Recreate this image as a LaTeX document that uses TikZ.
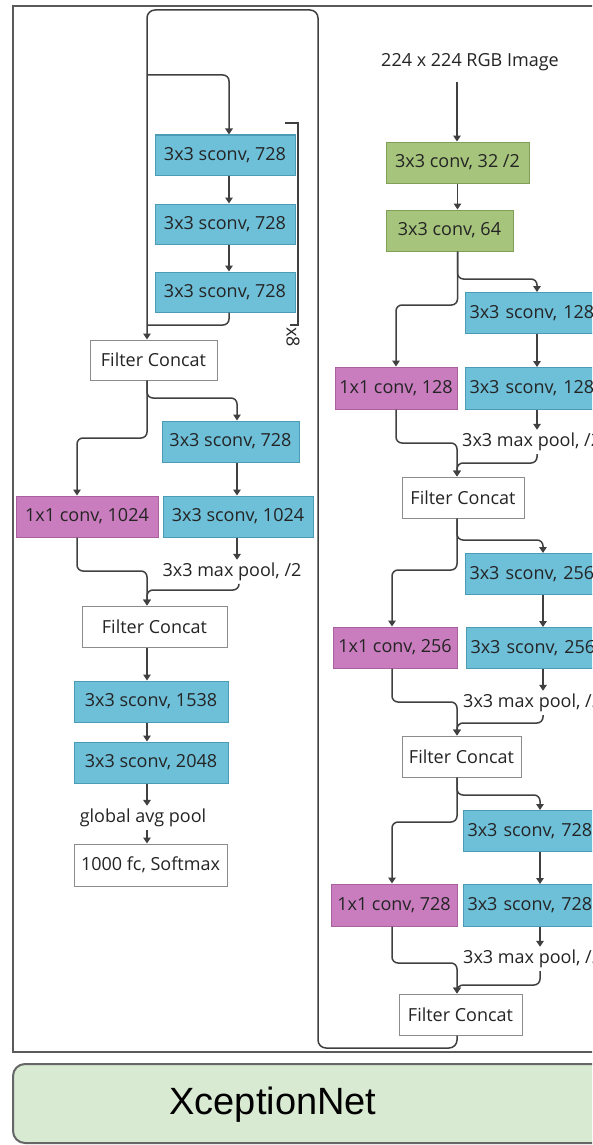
\documentclass[tikz,border=0pt]{standalone}
\usepackage{fontspec}
\setmainfont{Open Sans}
\newfontfamily\captionfont{Liberation Sans}
\usetikzlibrary{arrows.meta}
\definecolor{sblue}{HTML}{6EBFD8}
\definecolor{sblueb}{HTML}{4C9BB6}
\definecolor{spurp}{HTML}{C97DBF}
\definecolor{spurpb}{HTML}{A8609E}
\definecolor{sgreen}{HTML}{A6C47C}
\definecolor{sgreenb}{HTML}{80A058}
\definecolor{txt}{HTML}{242424}
\definecolor{lnk}{HTML}{404040}
\definecolor{frame}{HTML}{5A5A5A}
\definecolor{capfill}{HTML}{D9EAD3}
\definecolor{capedge}{HTML}{666666}
\tikzset{
  box/.style={draw, line width=1pt, minimum height=41pt, inner sep=0pt,
    font=\fontsize{18}{21}\selectfont, text=txt},
  sc/.style={box, fill=sblue, draw=sblueb},
  pc/.style={box, fill=spurp, draw=spurpb},
  gc/.style={box, fill=sgreen, draw=sgreenb},
  wc/.style={box, fill=white, draw=black!45},
  rsc/.style={sc, anchor=north west, text width=150pt, align=left, inner xsep=4pt},
  lbl/.style={font=\fontsize{18}{21}\selectfont, text=txt, inner xsep=0pt, inner ysep=3pt},
  link/.style={draw=lnk, line width=1.5pt, rounded corners=6pt},
  arr/.style={link, -{Triangle[length=6pt,width=7.5pt]}},
}
\begin{document}
\begin{tikzpicture}[x=1pt,y=-1pt]
\useasboundingbox (0,0) rectangle (592,1145);
\clip (0,0) rectangle (592,1145);

% outer frame
\draw[line width=2.5pt, draw=frame] (13,6) rectangle (620,1052);

% ---------- entry flow ----------
\node[lbl] (rgb) at (470,62) {224 x 224 RGB Image};
\coordinate (rgbout) at (457,82);
\node[gc, minimum width=143pt] (G1) at (457.5,162.5) {3x3 conv, 32 /2};
\node[gc, minimum width=127pt] (G2) at (449.5,230.5) {3x3 conv, 64};

% block 1
\node[rsc, minimum height=41pt] (sa1) at (465,292) {3x3 sconv, 128};
\node[pc, minimum width=122pt, minimum height=42pt] (P128) at (396,388) {1x1 conv, 128};
\node[rsc, minimum height=42pt] (sb1) at (465,367) {3x3 sconv, 128};
\node[lbl, anchor=west] (mp1) at (462,442) {3x3 max pool, /2};
\node[wc, minimum width=122pt] (FC1) at (463,497.5) {Filter Concat};

% block 2
\node[rsc] (sa2) at (465,553) {3x3 sconv, 256};
\node[pc, minimum width=124pt] (P256) at (395,647.5) {1x1 conv, 256};
\node[rsc] (sb2) at (466,627) {3x3 sconv, 256};
\node[lbl, anchor=west] (mp2) at (463,703) {3x3 max pool, /2};
\node[wc, minimum width=119pt] (FC2) at (461.5,756.5) {Filter Concat};

% block 3
\node[rsc] (sa3) at (463,810) {3x3 sconv, 728};
\node[pc, minimum width=126pt, minimum height=42pt] (P728) at (394,905) {1x1 conv, 728};
\node[rsc, minimum height=42pt] (sb3) at (463,884) {3x3 sconv, 728};
\node[lbl, anchor=west] (mp3) at (463,959) {3x3 max pool, /2};
\node[wc, minimum width=123pt] (FC3) at (460.5,1014.5) {Filter Concat};

% ---------- middle flow (repeated) ----------
\node[sc, minimum width=140pt, minimum height=40pt] (L1) at (225,155) {3x3 sconv, 728};
\node[sc, minimum width=140pt, minimum height=40pt] (L2) at (225,224) {3x3 sconv, 728};
\node[sc, minimum width=140pt, minimum height=40pt] (L3) at (225,292) {3x3 sconv, 728};
\node[wc, minimum width=127pt, minimum height=40pt] (LFC1) at (153.5,360) {Filter Concat};
\node[lbl, rotate=-90] (rep) at (293,337) {x8};
\coordinate (tap) at (147,75);

% ---------- exit flow ----------
\node[sc, minimum width=137pt] (LS728) at (230.5,441.5) {3x3 sconv, 728};
\node[pc, minimum width=142pt] (LP1024) at (87,516.5) {1x1 conv, 1024};
\node[sc, minimum width=150pt] (LS1024) at (238,516.5) {3x3 sconv, 1024};
\node[lbl] (mpL) at (232,572) {3x3 max pool, /2};
\node[wc, minimum width=145pt] (LFC2) at (154.5,626.5) {Filter Concat};
\node[sc, minimum width=154pt] (LS1538) at (151,701.5) {3x3 sconv, 1538};
\node[sc, minimum width=154pt] (LS2048) at (151,762.5) {3x3 sconv, 2048};
\node[lbl] (gap) at (143,818) {global avg pool};
\node[wc, minimum width=153pt, minimum height=42pt] (LFC3) at (150.5,865) {1000 fc, Softmax};

% ---------- connectors: entry flow ----------
\draw[arr] (rgbout) -- (rgbout |- G1.north);
\draw[arr] (G1.south) -- (G1.south |- G2.north);
\draw[arr] (G2.south -| G1.south) |- (537,279) -- (537,0 |- sa1.north);
\draw[arr] (G2.south -| G1.south) |- (396,305) -- (P128.north);
\draw[arr] (537,0 |- sa1.south) -- (537,0 |- sb1.north);
\draw[arr] (537,0 |- sb1.south) -- (537,0 |- mp1.north);
\draw[arr] (537,0 |- mp1.south) |- (457,463) -- (457,0 |- FC1.north);
\draw[arr] (P128.south) |- (457,443) -- (457,0 |- FC1.north);

\draw[arr] (457,0 |- FC1.south) |- (543,540) -- (543,0 |- sa2.north);
\draw[arr] (457,0 |- FC1.south) |- (392,570) -- (392,0 |- P256.north);
\draw[arr] (543,0 |- sa2.south) -- (543,0 |- sb2.north);
\draw[arr] (543,0 |- sb2.south) -- (543,0 |- mp2.north);
\draw[arr] (543,0 |- mp2.south) |- (457,723) -- (457,0 |- FC2.north);
\draw[arr] (392,0 |- P256.south) |- (457,702) -- (457,0 |- FC2.north);

\draw[arr] (457,0 |- FC2.south) |- (540,795) -- (540,0 |- sa3.north);
\draw[arr] (457,0 |- FC2.south) |- (392,822) -- (392,0 |- P728.north);
\draw[arr] (540,0 |- sa3.south) -- (540,0 |- sb3.north);
\draw[arr] (540,0 |- sb3.south) -- (540,0 |- mp3.north);
\draw[arr] (540,0 |- mp3.south) |- (457,985) -- (457,0 |- FC3.north);
\draw[arr] (392,0 |- P728.south) |- (457,963) -- (457,0 |- FC3.north);

% ---------- connectors: into middle flow ----------
\draw[arr, rounded corners=8pt] (457,0 |- FC3.south) |- (318,1048) |- (147,10) -- (147,0 |- LFC1.north);
\draw[arr] (tap) -| (229,0 |- L1.north);
\draw[arr] (229,0 |- L1.south) -- (229,0 |- L2.north);
\draw[arr] (229,0 |- L2.south) -- (229,0 |- L3.north);
\draw[link] (229,0 |- L3.south) |- (147,325);
\draw[draw=lnk, line width=1.4pt] (285,123) -| (298,325) -- (290,325);

% ---------- connectors: exit flow ----------
\draw[arr] (147,0 |- LFC1.south) |- (237,398) -- (237,0 |- LS728.north);
\draw[arr] (147,0 |- LFC1.south) |- (77,438) -- (77,0 |- LP1024.north);
\draw[arr] (237,0 |- LS728.south) -- (237,0 |- LS1024.north);
\draw[arr] (237,0 |- LS1024.south) -- (237,0 |- mpL.north);
\draw[arr] (239,0 |- mpL.south) |- (147,590) -- (147,0 |- LFC2.north);
\draw[arr] (77,0 |- LP1024.south) |- (147,571) -- (147,0 |- LFC2.north);
\draw[arr] (147,0 |- LFC2.south) -- (147,0 |- LS1538.north);
\draw[arr] (147,0 |- LS1538.south) -- (147,0 |- LS2048.north);
\draw[arr] (147,0 |- LS2048.south) -- (147,0 |- gap.north);
\draw[arr] (147,0 |- gap.south) -- (147,0 |- LFC3.north);

% ---------- caption ----------
\draw[rounded corners=12pt, fill=capfill, draw=capedge, line width=2pt] (13,1064) rectangle (660,1143);
\node[font=\captionfont\fontsize{38}{42}\selectfont, text=black] (title) at (273,1105) {XceptionNet};
\end{tikzpicture}
\end{document}
